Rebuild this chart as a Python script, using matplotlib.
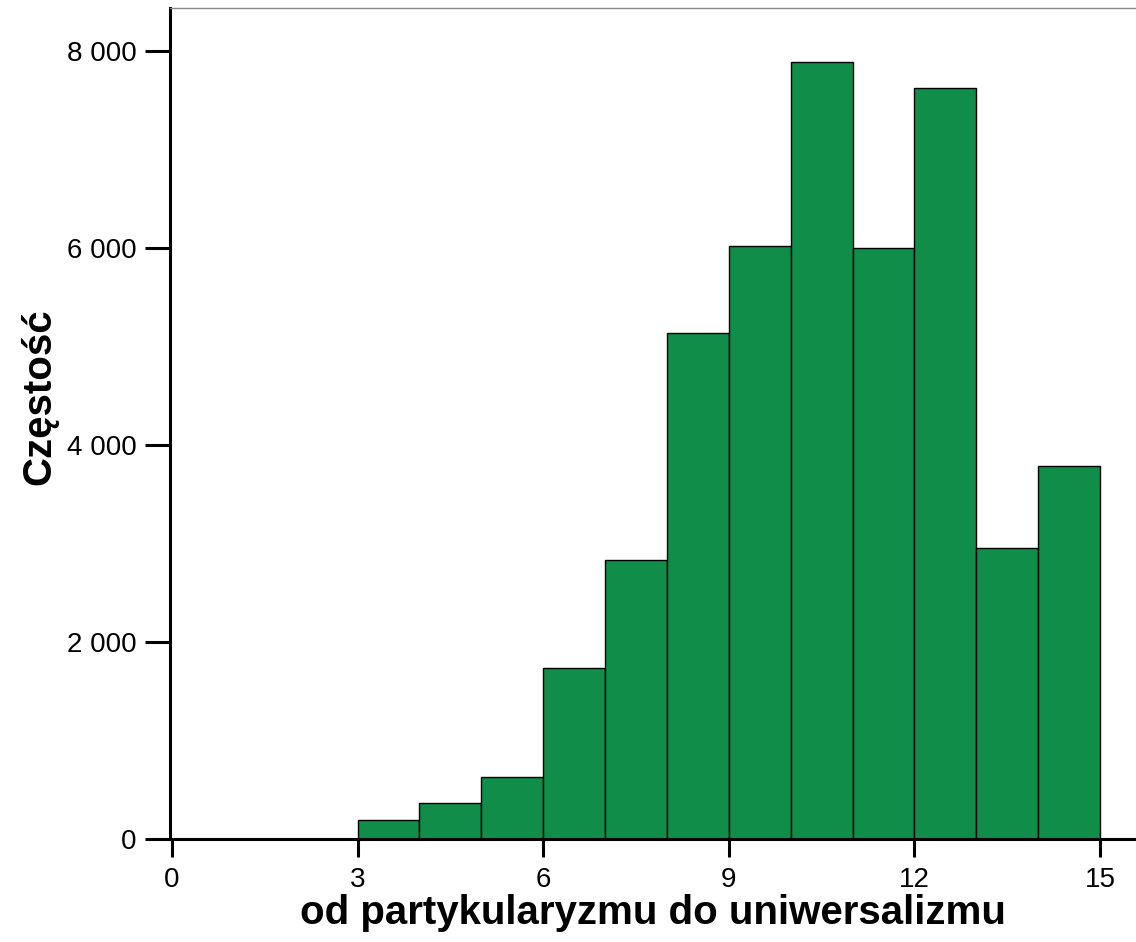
"""Histogram: od partykularyzmu do uniwersalizmu."""
import matplotlib

matplotlib.use("Agg")
import matplotlib.pyplot as plt
from matplotlib.ticker import FuncFormatter

plt.rcParams["font.family"] = ["Liberation Sans", "DejaVu Sans"]

# bin edges and counts
bin_left = [3, 4, 5, 6, 7, 8, 9, 10, 11, 12, 13, 14]
counts = [193, 365, 629, 1736, 2832, 5137, 6020, 7888, 6000, 7624, 2954, 3787]
x_ticks = [0, 3, 6, 9, 12, 15]
y_ticks = [0, 2000, 4000, 6000, 8000]

fig = plt.figure(figsize=(11.36, 9.42), dpi=100)
ax = fig.add_axes([170 / 1136, 103 / 942, 966 / 1136, 831 / 942])

ax.bar(bin_left, counts, width=1.0, align="edge", color="#108d48",
       edgecolor="black", linewidth=1.0, zorder=2)

ax.set_xlim(-0.03, 15.58)
ax.set_ylim(0, 8437)
ax.set_xticks(x_ticks)
ax.set_yticks(y_ticks)
ax.yaxis.set_major_formatter(FuncFormatter(lambda v, _: f"{int(v):,}".replace(",", " ")))

ax.spines["right"].set_visible(False)
ax.spines["top"].set_color("#888888")
ax.spines["top"].set_linewidth(1.0)
ax.spines["left"].set_linewidth(2.2)
ax.spines["bottom"].set_linewidth(2.2)
ax.tick_params(axis="y", direction="out", length=18, width=2.2, labelsize=20, pad=6)
ax.tick_params(axis="x", direction="out", length=13, width=2.2, labelsize=20, pad=7)

ax.set_xlabel("od partykularyzmu do uniwersalizmu", fontsize=29, fontweight="bold", labelpad=1)
ax.set_ylabel("Częstość", fontsize=29, fontweight="bold", labelpad=6)
ax.yaxis.label.set_y(0.532)

fig.savefig("out.png", dpi=100)
plt.close(fig)
